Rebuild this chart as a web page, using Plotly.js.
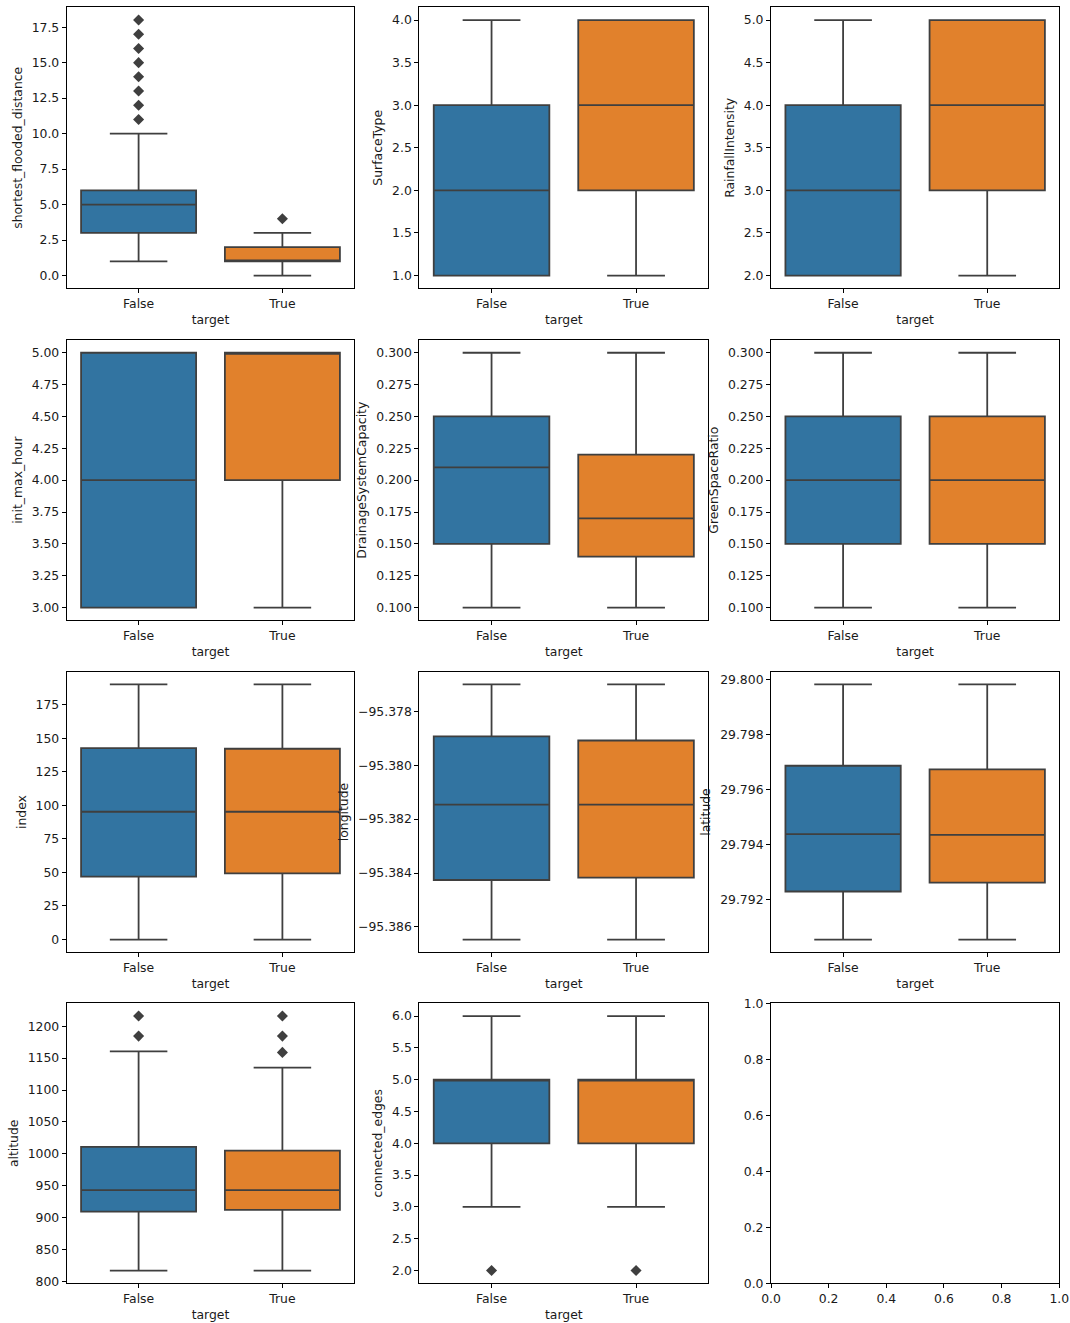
<!DOCTYPE html>
<html><head><meta charset="utf-8">
<script src="https://cdn.plot.ly/plotly-3.0.1.min.js"></script>
<style>html,body{margin:0;padding:0;background:#fff}</style>
</head><body><div id="chart" style="width:1070px;height:1323px"></div>
<script>
// ---- data ----
const categories = ["False", "True"];
const features = ["shortest_flooded_distance", "SurfaceType", "RainfallIntensity", "init_max_hour",
  "DrainageSystemCapacity", "GreenSpaceRatio", "index", "longitude", "latitude", "altitude", "connected_edges"];

const loFalse  = [1, 1, 2, 3, 0.10, 0.10, 0,     -95.38647, 29.79054, 817,    3];
const q1False  = [3, 1, 2, 3, 0.15, 0.15, 46.8,  -95.38426, 29.79229, 909.5,  4];
const medFalse = [5, 2, 3, 4, 0.21, 0.20, 95.2,  -95.38146, 29.79438, 943,    5];
const q3False  = [6, 3, 4, 5, 0.25, 0.25, 142.6, -95.37893, 29.79687, 1011,   5];
const hiFalse  = [10, 4, 5, 5, 0.30, 0.30, 190,  -95.37700, 29.79983, 1160.5, 6];
const outFalse = [[11, 12, 13, 14, 15, 16, 17, 18], [], [], [], [], [], [], [], [], [1184.5, 1216], [2]];

const loTrue   = [0, 1, 2, 3, 0.10, 0.10, 0,     -95.38647, 29.79054, 817,    3];
const q1True   = [1, 2, 3, 4, 0.14, 0.15, 49.3,  -95.38417, 29.79261, 912,    4];
const medTrue  = [1, 3, 4, 5, 0.17, 0.20, 95.2,  -95.38146, 29.79435, 943,    5];
const q3True   = [2, 4, 5, 5, 0.22, 0.25, 142.1, -95.37908, 29.79674, 1005,   5];
const hiTrue   = [3, 4, 5, 5, 0.30, 0.30, 190,   -95.37700, 29.79983, 1135,   6];
const outTrue  = [[4], [], [], [], [], [], [], [], [], [1159, 1184.5, 1216], [2]];

const yTickLabels = [
  ["0.0", "2.5", "5.0", "7.5", "10.0", "12.5", "15.0", "17.5"],
  ["1.0", "1.5", "2.0", "2.5", "3.0", "3.5", "4.0"],
  ["2.0", "2.5", "3.0", "3.5", "4.0", "4.5", "5.0"],
  ["3.00", "3.25", "3.50", "3.75", "4.00", "4.25", "4.50", "4.75", "5.00"],
  ["0.100", "0.125", "0.150", "0.175", "0.200", "0.225", "0.250", "0.275", "0.300"],
  ["0.100", "0.125", "0.150", "0.175", "0.200", "0.225", "0.250", "0.275", "0.300"],
  ["0", "25", "50", "75", "100", "125", "150", "175"],
  ["−95.386", "−95.384", "−95.382", "−95.380", "−95.378"],
  ["29.792", "29.794", "29.796", "29.798", "29.800"],
  ["800", "850", "900", "950", "1000", "1050", "1100", "1150", "1200"],
  ["2.0", "2.5", "3.0", "3.5", "4.0", "4.5", "5.0", "5.5", "6.0"]
];
const emptyTickLabels = ["0.0", "0.2", "0.4", "0.6", "0.8", "1.0"];
const xTitle = "target";

// ---- styling ----
const W = 1070, H = 1323;
const colX = [[66.7, 354.3], [419.3, 708.3], [771, 1059.3]];
const rowY = [[7.3, 288.3], [340, 620.3], [671.7, 952.3], [1003.3, 1283.3]];
const BLUE = "#3274a1", ORANGE = "#e1812c", GRAY = "#3f3f3f";
const FONT = {family: "DejaVu Sans, sans-serif", size: 12.4, color: "#1a1a1a"};
const toNum = s => parseFloat(s.replace("−", "-"));

const traces = [];
const layout = {
  width: W, height: H, margin: {l: 0, r: 0, t: 0, b: 0},
  paper_bgcolor: "#fff", plot_bgcolor: "#fff", showlegend: false,
  font: FONT, boxmode: "overlay"
};

function axisBase() {
  return {
    showline: true, mirror: true, linecolor: "#000", linewidth: 1,
    ticks: "outside", ticklen: 4, tickwidth: 1, tickcolor: "#000",
    showgrid: false, zeroline: false, fixedrange: true, tickfont: FONT
  };
}

for (let i = 0; i < 12; i++) {
  const n = i + 1, r = Math.floor(i / 3), c = i % 3;
  const xa = "x" + n, ya = "y" + n;
  const xk = "xaxis" + (n === 1 ? "" : n), yk = "yaxis" + (n === 1 ? "" : n);
  const xd = [colX[c][0] / W, colX[c][1] / W];
  const yd = [1 - rowY[r][1] / H, 1 - rowY[r][0] / H];
  const xAxis = Object.assign(axisBase(), {domain: xd, anchor: ya});
  const yAxis = Object.assign(axisBase(), {domain: yd, anchor: xa});

  if (i < features.length) {
    const groups = [
      [categories[0], BLUE, loFalse, q1False, medFalse, q3False, hiFalse, outFalse],
      [categories[1], ORANGE, loTrue, q1True, medTrue, q3True, hiTrue, outTrue]
    ];
    let all = [];
    groups.forEach(g => {
      const [cat, col, lo, q1, med, q3, hi, out] = g;
      traces.push({
        type: "box", xaxis: xa, yaxis: ya, x: [cat],
        lowerfence: [lo[i]], q1: [q1[i]], median: [med[i]], q3: [q3[i]], upperfence: [hi[i]],
        fillcolor: col, line: {color: GRAY, width: 1.8}, width: 0.8, whiskerwidth: 0.5,
        boxpoints: false, hoverinfo: "skip"
      });
      if (out[i].length) {
        traces.push({
          type: "scatter", mode: "markers", xaxis: xa, yaxis: ya,
          x: out[i].map(() => cat), y: out[i],
          marker: {symbol: "diamond", size: 8.5, color: GRAY}, hoverinfo: "skip"
        });
      }
      all = all.concat([lo[i], hi[i]], out[i]);
    });
    const mn = Math.min(...all), mx = Math.max(...all), span = mx - mn;
    Object.assign(xAxis, {
      type: "category", categoryorder: "array", categoryarray: categories, range: [-0.5, 1.5],
      title: {text: xTitle, font: FONT, standoff: 5}
    });
    Object.assign(yAxis, {
      range: [mn - 0.05 * span, mx + 0.05 * span],
      tickmode: "array", tickvals: yTickLabels[i].map(toNum), ticktext: yTickLabels[i],
      title: {text: features[i], font: FONT, standoff: 6}
    });
  } else {
    traces.push({type: "scatter", mode: "markers", x: [], y: [], xaxis: xa, yaxis: ya, hoverinfo: "skip"});
    const tv = emptyTickLabels.map(toNum);
    Object.assign(xAxis, {range: [0, 1], tickmode: "array", tickvals: tv, ticktext: emptyTickLabels});
    Object.assign(yAxis, {range: [0, 1], tickmode: "array", tickvals: tv, ticktext: emptyTickLabels});
  }
  layout[xk] = xAxis;
  layout[yk] = yAxis;
}

Plotly.newPlot("chart", traces, layout, {staticPlot: true, displayModeBar: false});
</script></body></html>
